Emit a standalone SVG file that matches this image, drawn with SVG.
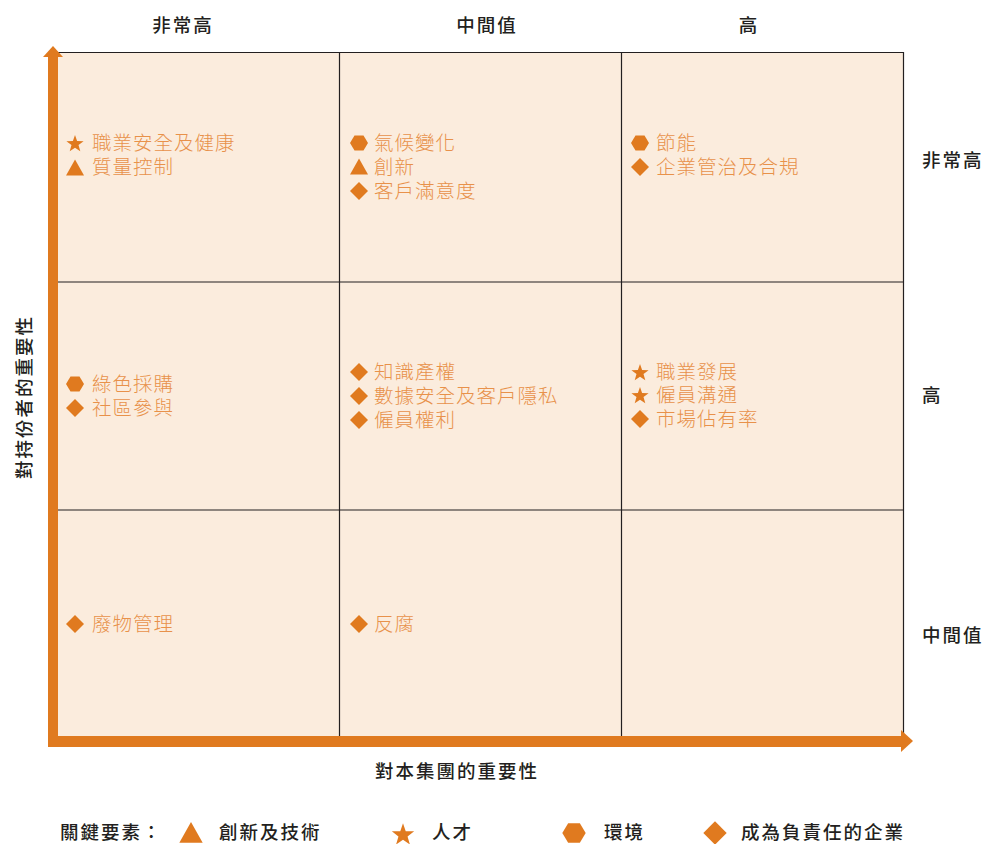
<svg xmlns="http://www.w3.org/2000/svg" xmlns:xlink="http://www.w3.org/1999/xlink" width="983" height="844" viewBox="0 0 983 844">
<style>
.hdr{font-family:"Noto Sans CJK TC","Noto Sans CJK SC",sans-serif;font-size:18.5px;letter-spacing:2px;fill:#231F20;font-weight:500}
.item{font-family:"Noto Sans CJK TC","Noto Sans CJK SC",sans-serif;font-size:19.5px;letter-spacing:1px;fill:#E8914A;font-weight:300}
.cell{fill:#FBECDD;stroke:none}
.grid{stroke:#231F20;stroke-width:1.2;fill:none}
.ic{fill:#E07A1F}
</style>
<defs>
<path id="star" d="M0,-9 L2.1,-2.9 L8.6,-2.8 L3.5,1.1 L5.3,7.3 L0,3.7 L-5.3,7.3 L-3.5,1.1 L-8.6,-2.8 L-2.1,-2.9Z"/>
<path id="tri" d="M0,-8.5 L9,7.5 L-9,7.5Z"/>
<path id="hex" d="M-9,0 L-4.5,-7.5 L4.5,-7.5 L9,0 L4.5,7.5 L-4.5,7.5Z"/>
<path id="dia" d="M0,-9 L9,0 L0,9 L-9,0Z"/>
</defs>
<rect width="983" height="844" fill="#fff"/>
<g id="grid">
<rect class="cell" x="57" y="52" width="846" height="685"/>
<line class="grid" x1="57" y1="52.5" x2="903" y2="52.5" stroke-width="2"/>
<line class="grid" x1="339.5" y1="52" x2="339.5" y2="737"/>
<line class="grid" x1="621.5" y1="52" x2="621.5" y2="737"/>
<line class="grid" x1="903.5" y1="52" x2="903.5" y2="737"/>
<line class="grid" x1="57" y1="282" x2="903" y2="282"/>
<line class="grid" x1="57" y1="510" x2="903" y2="510"/>
</g>
<g id="connectors">
<rect class="ic" x="48" y="56" width="10" height="691"/>
<path class="ic" d="M53,46 L63,57 L43,57Z"/>
<rect class="ic" x="48" y="736" width="854" height="11"/>
<path class="ic" d="M913,741 L901,730 L901,752Z"/>
</g>
<g id="headers">
<text class="hdr" x="183" y="32" text-anchor="middle">非常高</text>
<text class="hdr" x="487" y="32" text-anchor="middle">中間值</text>
<text class="hdr" x="749" y="32" text-anchor="middle">高</text>
<text class="hdr" x="922" y="167">非常高</text>
<text class="hdr" x="922" y="402">高</text>
<text class="hdr" x="922" y="642">中間值</text>
<text class="hdr" x="457" y="778" text-anchor="middle">對本集團的重要性</text>
<text class="hdr" transform="translate(31,397) rotate(-90)" text-anchor="middle">對持份者的重要性</text>
</g>
<g id="cell-1-1">
<use href="#star" class="ic" x="75" y="144"/><text class="item" x="92" y="150">職業安全及健康</text>
<use href="#tri" class="ic" x="75" y="168"/><text class="item" x="92" y="174">質量控制</text>
</g>
<g id="cell-1-2">
<use href="#hex" class="ic" x="359" y="143"/><text class="item" x="374" y="150">氣候變化</text>
<use href="#tri" class="ic" x="359" y="167"/><text class="item" x="374" y="174">創新</text>
<use href="#dia" class="ic" x="359" y="191"/><text class="item" x="374" y="198">客戶滿意度</text>
</g>
<g id="cell-1-3">
<use href="#hex" class="ic" x="640" y="143"/><text class="item" x="656" y="150">節能</text>
<use href="#dia" class="ic" x="640" y="167"/><text class="item" x="656" y="174">企業管治及合規</text>
</g>
<g id="cell-2-1">
<use href="#hex" class="ic" x="75" y="384"/><text class="item" x="92" y="391">綠色採購</text>
<use href="#dia" class="ic" x="75" y="408"/><text class="item" x="92" y="415">社區參與</text>
</g>
<g id="cell-2-2">
<use href="#dia" class="ic" x="359" y="372"/><text class="item" x="374" y="379">知識產權</text>
<use href="#dia" class="ic" x="359" y="396"/><text class="item" x="374" y="403">數據安全及客戶隱私</text>
<use href="#dia" class="ic" x="359" y="420"/><text class="item" x="374" y="427">僱員權利</text>
</g>
<g id="cell-2-3">
<use href="#star" class="ic" x="640" y="373"/><text class="item" x="656" y="379">職業發展</text>
<use href="#star" class="ic" x="640" y="396"/><text class="item" x="656" y="402">僱員溝通</text>
<use href="#dia" class="ic" x="640" y="419"/><text class="item" x="656" y="426">市場佔有率</text>
</g>
<g id="cell-3-1">
<use href="#dia" class="ic" x="75" y="624"/><text class="item" x="92" y="631">廢物管理</text>
</g>
<g id="cell-3-2">
<use href="#dia" class="ic" x="359" y="624"/><text class="item" x="374" y="631">反腐</text>
</g>
<g id="legend">
<text class="hdr" x="60" y="839">關鍵要素：</text>
<use href="#tri" class="ic" transform="translate(191,833) scale(1.3)"/>
<text class="hdr" x="219" y="839">創新及技術</text>
<use href="#star" class="ic" transform="translate(403,835) scale(1.3)"/>
<text class="hdr" x="432" y="839">人才</text>
<use href="#hex" class="ic" transform="translate(574,833) scale(1.3)"/>
<text class="hdr" x="604" y="839">環境</text>
<use href="#dia" class="ic" transform="translate(715,833) scale(1.3)"/>
<text class="hdr" x="741" y="839">成為負責任的企業</text>
</g>
</svg>
